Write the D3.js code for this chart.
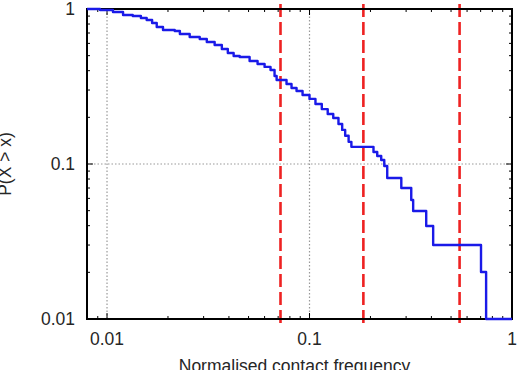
<!DOCTYPE html>
<html>
<head>
<meta charset="utf-8">
<script src="https://cdn.jsdelivr.net/npm/d3@7"></script>
<style>
  body { margin: 0; background: #fff; }
  svg text { font-family: "Liberation Sans", Arial, sans-serif; fill: #262626; }
</style>
</head>
<body>
<script>
// CCDF of normalised contact frequency (step corners)
var ccdfX = [0.00797, 0.00924, 0.0107, 0.0120, 0.0134, 0.0147, 0.0157, 0.0167, 0.0176, 0.0189,
  0.0216, 0.0229, 0.0256, 0.0287, 0.0311, 0.0340, 0.0369, 0.0395, 0.0422, 0.0452,
  0.0506, 0.0554, 0.0600, 0.0642, 0.0672, 0.0688, 0.0770, 0.0815, 0.0863, 0.0924,
  0.100, 0.107, 0.115, 0.123, 0.131, 0.139, 0.145, 0.150, 0.156, 0.161,
  0.207, 0.216, 0.226, 0.234, 0.242, 0.284, 0.318, 0.325, 0.377, 0.408,
  0.703, 0.745, 1.0];
var ccdfY = [1.0, 0.985, 0.956, 0.915, 0.901, 0.875, 0.849, 0.812, 0.765, 0.732,
  0.721, 0.690, 0.660, 0.641, 0.612, 0.586, 0.552, 0.520, 0.497, 0.490,
  0.462, 0.442, 0.423, 0.404, 0.370, 0.348, 0.328, 0.309, 0.296, 0.279,
  0.263, 0.244, 0.226, 0.210, 0.198, 0.181, 0.166, 0.152, 0.139, 0.129,
  0.1195, 0.1127, 0.1061, 0.0970, 0.0812, 0.0700, 0.0586, 0.0497, 0.0398, 0.0300,
  0.0201, 0.01, 0.01];

// dashed threshold lines
var thresholds = [0.0719, 0.1845, 0.551];

var xTicks = [0.01, 0.1, 1];
var xTickLabels = ["0.01", "0.1", "1"];
var yTicks = [0.01, 0.1, 1];
var yTickLabels = ["0.01", "0.1", "1"];
var xGrid = [0.01, 0.1];
var yGrid = [0.1];

var w = 522, h = 370;
var margin = { left: 87, right: 10, top: 9, bottom: 51 };

var svg = d3.select("body").append("svg")
  .attr("width", w)
  .attr("height", h);

var xScale = d3.scaleLog()
  .domain([0.007964, 1])
  .range([margin.left, w - margin.right]);

var yScale = d3.scaleLog()
  .domain([0.01, 1])
  .range([h - margin.bottom, margin.top]);

var x0 = margin.left, x1 = w - margin.right;
var y0 = h - margin.bottom, y1 = margin.top;

// minor tick values for each decade
function minors(lo, hi) {
  var out = [];
  for (var e = -3; e <= 0; e++) {
    for (var m = 1; m <= 9; m++) {
      var v = m * Math.pow(10, e);
      if (v >= lo * 0.999 && v <= hi * 1.001 && m != 1) out.push(v);
    }
  }
  return out;
}

// grid
svg.selectAll(".gx").data(xGrid).enter().append("line")
  .attr("x1", d => xScale(d)).attr("x2", d => xScale(d))
  .attr("y1", y0).attr("y2", y1)
  .attr("stroke", "#999").attr("stroke-width", 1.2).attr("stroke-dasharray", "1.5,2");
svg.selectAll(".gy").data(yGrid).enter().append("line")
  .attr("y1", d => yScale(d)).attr("y2", d => yScale(d))
  .attr("x1", x0).attr("x2", x1)
  .attr("stroke", "#999").attr("stroke-width", 1.2).attr("stroke-dasharray", "1.5,2");

// ticks on all four sides, pointing inwards
var tickG = svg.append("g").attr("stroke", "#000").attr("stroke-width", 1);
function xTick(v, len) {
  tickG.append("line").attr("x1", xScale(v)).attr("x2", xScale(v)).attr("y1", y0).attr("y2", y0 - len);
  tickG.append("line").attr("x1", xScale(v)).attr("x2", xScale(v)).attr("y1", y1).attr("y2", y1 + len);
}
function yTick(v, len) {
  tickG.append("line").attr("y1", yScale(v)).attr("y2", yScale(v)).attr("x1", x0).attr("x2", x0 + len);
  tickG.append("line").attr("y1", yScale(v)).attr("y2", yScale(v)).attr("x1", x1).attr("x2", x1 - len);
}
xTicks.forEach(v => xTick(v, 6));
minors(0.007964, 1).forEach(v => xTick(v, 3));
yTicks.forEach(v => yTick(v, 6));
minors(0.01, 1).forEach(v => yTick(v, 3));

// threshold lines
svg.selectAll(".thr").data(thresholds).enter().append("line")
  .attr("x1", d => xScale(d)).attr("x2", d => xScale(d))
  .attr("y1", 4).attr("y2", 326)
  .attr("stroke", "#ee2222").attr("stroke-width", 2.6)
  .attr("stroke-dasharray", "13,5");

// frame
svg.append("rect")
  .attr("x", x0).attr("y", y1)
  .attr("width", x1 - x0).attr("height", y0 - y1)
  .attr("fill", "none").attr("stroke", "#000").attr("stroke-width", 2);

// ccdf curve
var pts = d3.zip(ccdfX, ccdfY);
var line = d3.line()
  .x(d => xScale(d[0]))
  .y(d => yScale(d[1]))
  .curve(d3.curveStepAfter);
svg.append("path")
  .datum(pts)
  .attr("d", line)
  .attr("fill", "none")
  .attr("stroke", "#1a1ae8")
  .attr("stroke-width", 2.4)
  .attr("stroke-linejoin", "round");

// tick labels
svg.selectAll(".xl").data(xTicks).enter().append("text")
  .attr("x", d => xScale(d)).attr("y", y0 + 26)
  .attr("text-anchor", "middle")
  .style("font-size", "17.5px")
  .text((d, i) => xTickLabels[i]);
svg.selectAll(".yl").data(yTicks).enter().append("text")
  .attr("x", x0 - 12).attr("y", d => yScale(d) + 6)
  .attr("text-anchor", "end")
  .style("font-size", "17.5px")
  .text((d, i) => yTickLabels[i]);

// axis titles
svg.append("text")
  .attr("x", (x0 + x1) / 2 - 5).attr("y", 372)
  .attr("text-anchor", "middle")
  .style("font-size", "17.5px")
  .text("Normalised contact frequency");
svg.append("text")
  .attr("transform", "translate(11," + ((y0 + y1) / 2) + ") rotate(-90)")
  .attr("text-anchor", "middle")
  .style("font-size", "17.5px")
  .text("P(X > x)");
</script>
</body>
</html>
